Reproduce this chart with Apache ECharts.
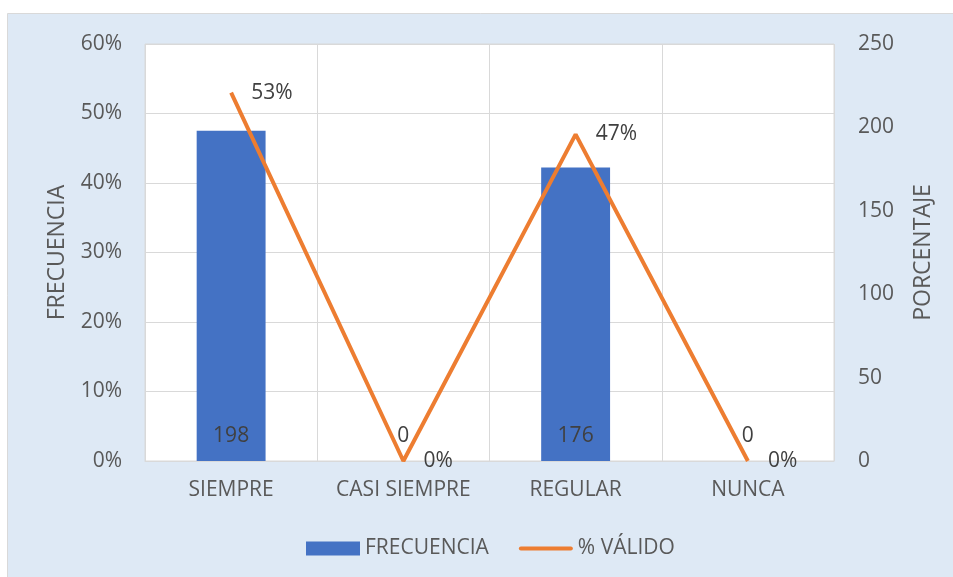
<!DOCTYPE html>
<html>
<head>
<meta charset="utf-8">
<script src="https://cdn.jsdelivr.net/npm/echarts@6/dist/echarts.min.js"></script>
<style>
  html, body { margin: 0; padding: 0; background: #ffffff; }
  #chart { width: 953px; height: 577px; }
</style>
</head>
<body>
<div id="chart"></div>
<script>
// Survey answers and their counts / valid-percentage shares
const categories = ['SIEMPRE', 'CASI SIEMPRE', 'REGULAR', 'NUNCA'];
const frecuencia = [198, 0, 176, 0];
const porcentajeValido = [0.53, 0, 0.47, 0];

// Axis tick values
const leftTicks = { min: 0, max: 0.6, interval: 0.1 };
const rightTicks = { min: 0, max: 250, interval: 50 };

const FONT = '"Open Sans", "DejaVu Sans", sans-serif';
const FS = 21;
const GREY = '#595959';
const DARK = '#404040';
const LINE_GREY = '#d9d9d9';

// thin rounded stroke used as the legend key of the line series
const LINE_ICON = 'path://M0,0L0,0M2,5L52,5A2,2,0,0,1,52,9L2,9A2,2,0,0,1,2,5ZM54,14L54,14';

const chart = echarts.init(document.getElementById('chart'));

chart.setOption({
  animation: false,
  textStyle: { fontFamily: FONT },
  graphic: [{
    type: 'rect',
    z: -10,
    shape: { x: 7.5, y: 13.5, width: 960, height: 580 },
    style: { fill: '#dee9f5', stroke: LINE_GREY, lineWidth: 1 }
  }],
  grid: {
    left: 145, right: 119, top: 44, bottom: 116,
    show: true, backgroundColor: '#ffffff',
    borderColor: LINE_GREY, borderWidth: 1
  },
  legend: {
    left: 306, top: 538, padding: 0,
    itemWidth: 54, itemHeight: 14, itemGap: 30,
    textStyle: { fontFamily: FONT, fontSize: FS, color: GREY },
    data: [
      { name: 'FRECUENCIA', icon: 'rect' },
      { name: '% VÁLIDO', icon: LINE_ICON }
    ]
  },
  xAxis: {
    type: 'category',
    data: categories,
    axisLine: { show: true, lineStyle: { color: LINE_GREY } },
    axisTick: { show: false },
    splitLine: { show: true, interval: 0, lineStyle: { color: LINE_GREY, width: 1 } },
    axisLabel: { interval: 0, fontSize: FS, color: GREY, margin: 19, fontFamily: FONT }
  },
  yAxis: [
    {
      type: 'value',
      min: leftTicks.min, max: leftTicks.max, interval: leftTicks.interval,
      name: 'FRECUENCIA',
      nameLocation: 'middle', nameGap: 76, nameRotate: 90,
      nameTextStyle: { fontSize: 23, color: GREY, fontFamily: FONT },
      axisLine: { show: false }, axisTick: { show: false },
      splitLine: { show: true, lineStyle: { color: LINE_GREY, width: 1 } },
      axisLabel: {
        fontSize: FS, color: GREY, margin: 23, fontFamily: FONT,
        formatter: v => Math.round(v * 100) + '%'
      }
    },
    {
      type: 'value',
      min: rightTicks.min, max: rightTicks.max, interval: rightTicks.interval,
      name: 'PORCENTAJE',
      nameLocation: 'middle', nameGap: 78, nameRotate: 90,
      nameTextStyle: { fontSize: 23, color: GREY, fontFamily: FONT },
      axisLine: { show: false }, axisTick: { show: false },
      splitLine: { show: false },
      axisLabel: { fontSize: FS, color: GREY, margin: 24, fontFamily: FONT }
    }
  ],
  series: [
    {
      name: 'FRECUENCIA',
      type: 'bar',
      yAxisIndex: 1,
      data: frecuencia,
      barWidth: '40%',
      itemStyle: { color: '#4472c4' },
      label: {
        show: true, position: 'insideBottom', distance: 14,
        fontSize: FS, color: DARK, fontFamily: FONT
      }
    },
    {
      name: '% VÁLIDO',
      type: 'line',
      yAxisIndex: 0,
      data: porcentajeValido,
      symbol: 'circle',
      symbolSize: 0,
      showSymbol: true,
      lineStyle: { color: '#ed7d31', width: 4 },
      itemStyle: { color: '#ed7d31' },
      label: {
        show: true, position: 'right', distance: 20,
        fontSize: FS, color: DARK, fontFamily: FONT,
        formatter: p => Math.round(p.value * 100) + '%'
      },
      z: 3
    }
  ]
});
</script>
</body>
</html>
